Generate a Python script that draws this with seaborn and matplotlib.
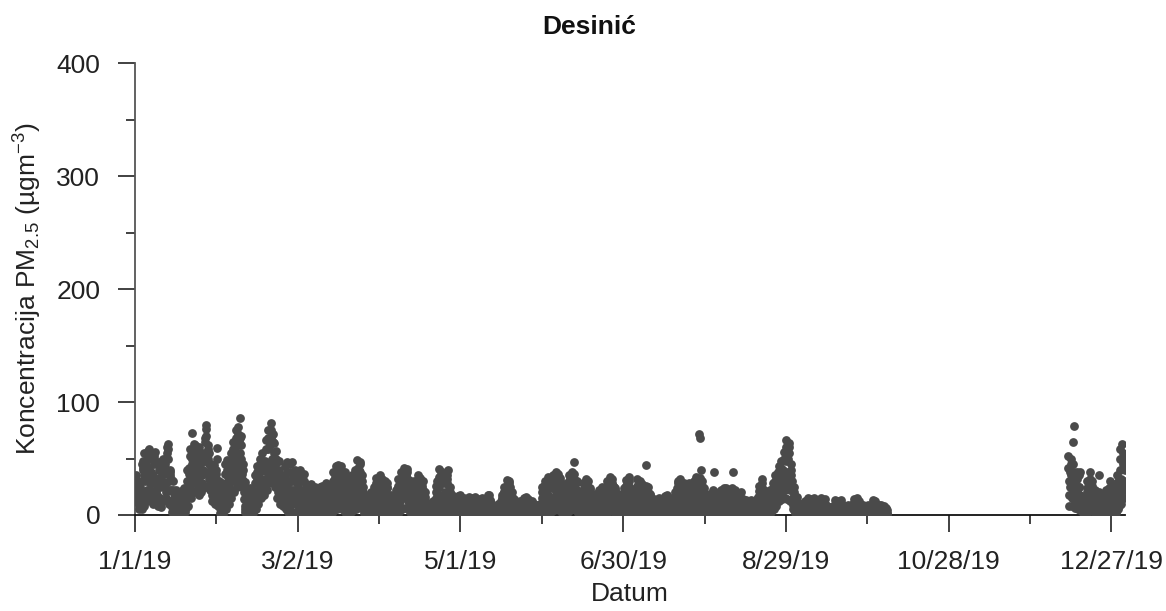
import numpy as np
import pandas as pd
import matplotlib
matplotlib.use("Agg")
import matplotlib.pyplot as plt
import matplotlib.dates as mdates
import seaborn as sns
from matplotlib.ticker import FixedLocator, MultipleLocator, FixedFormatter

# ---- data: PM2.5 readings ----
# readings at 00, 06, 12, 18 h of each day
jan = [28, 35, 12, 22, 18, 30, 5, 14, 25, 12, 5, 45, 40, 55, 8, 30, 48, 35, 12, 57,
       58, 42, 15, 30, 38, 20, 10, 55, 45, 56, 12, 28, 32, 18, 8, 47, 40, 25, 7, 45,
       30, 50, 12, 38, 45, 28, 15, 60, 63, 50, 10, 35, 40, 22, 3, 12, 30, 15, 1, 8,
       12, 22, 1, 6, 10, 4, 0, 18, 14, 8, 2, 20, 24, 15, 3, 10, 20, 40, 8, 30,
       42, 58, 15, 30, 50, 35, 20, 63, 62, 45, 20, 38, 55, 30, 18, 60, 45, 25, 20, 35,
       40, 55, 25, 65, 70, 80, 25, 50, 62, 45, 22, 35, 45, 25, 12, 30, 20, 44, 10, 32,
       40, 59, 8, 25]
feb = [30, 12, 2, 20, 15, 28, 1, 8, 25, 45, 5, 35, 49, 30, 10, 40, 40, 55, 15, 30,
       50, 65, 20, 42, 60, 75, 25, 45, 78, 65, 30, 55, 70, 50, 25, 40, 30, 14, 3, 8,
       22, 10, 1, 5, 15, 24, 1, 8, 22, 12, 2, 16, 20, 35, 5, 28, 43, 30, 10, 22,
       38, 50, 15, 28, 55, 40, 18, 32, 48, 66, 22, 38, 75, 60, 28, 45, 81, 68, 30, 50,
       72, 55, 25, 40, 57, 35, 15, 25, 48, 30, 10, 20, 35, 20, 8, 15, 25, 43, 5, 18,
       47, 28, 3, 12, 30, 45, 3, 15, 47, 22, 2, 35]
mar = [40, 20, 3, 28, 25, 38, 2, 12, 40, 30, 3, 18, 22, 36, 2, 10, 27, 15, 1, 8,
       12, 26, 1, 18, 27, 14, 2, 20, 18, 25, 1, 7, 24, 10, 1, 15, 14, 25, 2, 19,
       26, 18, 3, 10, 20, 28, 2, 12, 22, 8, 1, 14, 12, 25, 2, 18, 38, 20, 4, 28,
       30, 43, 5, 18, 44, 25, 6, 35, 43, 30, 5, 20, 28, 38, 3, 15, 31, 14, 2, 22,
       20, 33, 3, 12, 35, 22, 4, 28, 28, 40, 5, 18, 49, 32, 8, 40, 47, 25, 6, 35,
       25, 12, 2, 18, 12, 5, 0, 8, 6, 10, 0, 3, 20, 8, 1, 12, 15, 25, 2, 20,
       33, 18, 3, 25]
apr = [28, 35, 4, 15, 32, 20, 3, 12, 18, 30, 2, 24, 25, 10, 1, 16, 12, 18, 1, 6,
       14, 5, 0, 9, 10, 22, 1, 15, 32, 18, 3, 24, 25, 38, 5, 30, 42, 28, 6, 35,
       35, 41, 5, 20, 31, 15, 3, 22, 18, 28, 2, 10, 30, 20, 3, 12, 25, 35, 3, 15,
       33, 18, 2, 26, 30, 12, 2, 20, 13, 5, 0, 8, 8, 3, 0, 5, 4, 10, 0, 7,
       12, 6, 1, 9, 20, 30, 2, 12, 41, 25, 4, 32, 30, 38, 3, 18, 35, 20, 3, 28,
       28, 40, 4, 15, 25, 12, 1, 18, 13, 5, 0, 9, 8, 15, 0, 4, 17, 10, 1, 6]
may = [18, 8, 0, 12, 10, 15, 0, 5, 14, 6, 0, 9, 7, 16, 1, 11, 15, 9, 0, 4,
       12, 16, 1, 6, 13, 5, 0, 8, 6, 14, 0, 10, 15, 9, 1, 4, 12, 5, 0, 8,
       10, 18, 1, 6, 13, 7, 0, 4, 8, 3, 0, 5, 5, 7, 0, 2, 10, 4, 0, 6,
       12, 18, 1, 8, 25, 14, 2, 18, 20, 31, 3, 24, 30, 18, 2, 12, 20, 10, 1, 14,
       10, 4, 0, 7, 5, 8, 0, 3, 12, 6, 0, 9, 9, 15, 1, 12, 16, 10, 1, 6,
       14, 7, 0, 10, 6, 12, 0, 9, 10, 4, 0, 7, 9, 5, 0, 3, 6, 10, 0, 4,
       25, 12, 2, 18]
jun = [30, 18, 3, 22, 22, 34, 4, 28, 33, 15, 3, 25, 35, 24, 4, 16, 28, 38, 5, 20,
       36, 22, 4, 30, 28, 12, 2, 20, 18, 25, 2, 10, 27, 16, 3, 22, 35, 25, 4, 15,
       30, 38, 5, 22, 36, 20, 4, 28, 22, 10, 2, 15, 12, 20, 1, 7, 28, 15, 2, 20,
       22, 32, 3, 14, 30, 18, 2, 24, 18, 8, 1, 12, 10, 15, 1, 6, 19, 12, 1, 8,
       14, 22, 1, 9, 25, 15, 2, 19, 16, 24, 2, 10, 30, 20, 3, 24, 26, 34, 4, 15,
       32, 18, 3, 25, 22, 12, 2, 16, 12, 19, 1, 7, 18, 9, 1, 13, 15, 24, 2, 10]
jul = [31, 20, 3, 24, 25, 34, 3, 14, 20, 10, 1, 15, 9, 16, 1, 12, 32, 20, 3, 25,
       22, 30, 3, 14, 27, 15, 2, 20, 18, 26, 2, 10, 25, 12, 2, 19, 16, 8, 1, 11,
       7, 14, 0, 10, 13, 6, 0, 9, 10, 15, 1, 5, 14, 8, 0, 4, 9, 17, 1, 12,
       18, 11, 1, 6, 13, 5, 0, 9, 8, 15, 1, 11, 20, 12, 1, 16, 24, 30, 3, 15,
       32, 20, 3, 26, 18, 28, 2, 10, 25, 14, 2, 20, 20, 28, 2, 12, 24, 15, 2, 18,
       22, 30, 3, 12, 34, 25, 3, 18, 28, 33, 5, 20, 30, 18, 3, 24, 19, 10, 1, 14,
       11, 18, 1, 6]
aug = [19, 12, 1, 8, 14, 22, 2, 17, 20, 10, 1, 14, 12, 18, 1, 6, 22, 15, 2, 10,
       16, 24, 2, 20, 24, 12, 2, 18, 15, 22, 2, 8, 24, 16, 2, 20, 18, 22, 2, 10,
       19, 9, 1, 14, 12, 20, 1, 6, 14, 7, 1, 10, 8, 13, 0, 5, 12, 6, 0, 9,
       7, 13, 0, 10, 12, 4, 0, 8, 9, 14, 1, 6, 26, 15, 2, 20, 24, 32, 3, 14,
       22, 12, 2, 17, 10, 18, 2, 14, 22, 15, 3, 9, 20, 28, 5, 14, 35, 25, 8, 18,
       32, 43, 12, 25, 48, 35, 14, 28, 40, 56, 15, 30, 66, 50, 14, 38, 55, 64, 12, 35,
       40, 22, 5, 15]
sep = [25, 12, 2, 8, 8, 16, 0, 4, 10, 5, 0, 3, 4, 10, 0, 7, 12, 6, 0, 3,
       7, 15, 0, 10, 14, 8, 0, 4, 10, 15, 1, 6, 9, 4, 0, 2, 3, 9, 0, 6,
       15, 8, 0, 4, 6, 14, 0, 9, 8, 3, 0, 5, 4, 7, 0, 2, 7, 3, 0, 5,
       6, 13, 0, 9, 12, 5, 0, 8, 7, 13, 0, 4, 9, 4, 0, 6, 3, 8, 0, 5,
       9, 5, 0, 2, 4, 9, 0, 6, 14, 7, 0, 10, 9, 15, 0, 5, 12, 6, 0, 8,
       4, 9, 0, 6, 8, 3, 0, 5, 5, 9, 0, 2, 8, 4, 0, 6, 6, 13, 0, 9]
oct_ = [12, 5, 0, 8, 4, 9, 0, 6, 9, 5, 0, 3, 5, 8, 0, 2, 6, 2]
dec = [52, 30, 8, 40, 35, 50, 8, 22, 45, 28, 6, 18, 25, 38, 5, 15, 35, 18, 4, 10,
       16, 8, 2, 12, 6, 15, 1, 10, 30, 15, 3, 20, 25, 38, 4, 12, 30, 12, 3, 20,
       22, 8, 1, 14, 10, 20, 1, 6, 16, 7, 0, 10, 6, 15, 0, 9, 22, 12, 1, 8,
       14, 24, 2, 18, 25, 10, 2, 16, 12, 24, 2, 18, 35, 20, 5, 12, 40, 58, 10, 25,
       63, 45, 15, 30]
# readings at 03, 09, 15, 21 h of each day
jan_b = [32, 24, 16, 25, 24, 16, 9, 20, 18, 8, 30, 42, 48, 35, 18, 44, 42, 22, 38, 52,
         50, 28, 22, 35, 28, 14, 35, 50, 52, 32, 20, 30, 25, 12, 30, 44, 33, 15, 28, 36,
         42, 28, 25, 42, 36, 20, 40, 55, 58, 30, 22, 38, 32, 12, 7, 20, 22, 6, 4, 10,
         18, 10, 3, 8, 7, 2, 10, 15, 10, 5, 12, 22, 20, 8, 6, 15, 30, 24, 18, 36,
         52, 35, 22, 45, 42, 28, 45, 58, 55, 32, 28, 48, 42, 24, 40, 52, 35, 22, 28, 40,
         48, 38, 48, 68, 76, 55, 38, 58, 55, 32, 28, 40, 35, 18, 20, 25, 32, 25, 20, 36,
         50, 30, 15, 28]
feb_b = [22, 6, 10, 18, 22, 12, 4, 14, 36, 20, 18, 40, 40, 18, 25, 45, 48, 32, 22, 38,
         58, 40, 30, 55, 68, 50, 35, 62, 72, 48, 42, 68, 62, 36, 32, 45, 20, 8, 5, 15,
         16, 5, 3, 10, 20, 12, 4, 18, 17, 6, 9, 18, 28, 18, 15, 32, 38, 20, 16, 30,
         45, 32, 22, 44, 48, 28, 25, 40, 58, 42, 30, 58, 68, 44, 36, 62, 75, 50, 40, 65,
         64, 40, 32, 50, 46, 25, 20, 35, 40, 20, 14, 28, 28, 14, 10, 20, 34, 22, 12, 30,
         38, 15, 8, 22, 38, 22, 9, 30, 35, 12, 18, 38]
mar_b = [30, 10, 15, 32, 32, 18, 6, 18, 35, 15, 10, 20, 30, 15, 5, 16, 20, 6, 4, 10,
         20, 10, 9, 22, 20, 7, 11, 15, 22, 10, 4, 16, 16, 5, 8, 12, 20, 12, 10, 22,
         22, 9, 6, 15, 24, 12, 6, 18, 15, 4, 8, 10, 18, 10, 9, 26, 30, 12, 15, 34,
         38, 22, 10, 35, 35, 15, 20, 40, 38, 16, 12, 24, 34, 18, 8, 22, 24, 8, 12, 16,
         28, 15, 7, 25, 30, 12, 15, 32, 35, 20, 10, 38, 42, 18, 25, 45, 38, 14, 20, 30,
         20, 6, 10, 15, 9, 2, 4, 6, 8, 4, 1, 12, 15, 4, 6, 14, 20, 12, 10, 28,
         28, 10, 14, 30]
apr_b = [32, 18, 8, 22, 26, 10, 7, 16, 25, 14, 12, 28, 18, 5, 8, 14, 15, 8, 3, 10,
         10, 2, 4, 7, 16, 10, 8, 24, 26, 10, 12, 30, 32, 20, 16, 36, 36, 16, 20, 40,
         38, 22, 12, 28, 24, 8, 12, 20, 24, 14, 5, 22, 26, 10, 7, 18, 30, 18, 8, 28,
         26, 9, 14, 30, 22, 6, 10, 16, 9, 2, 4, 10, 6, 1, 2, 3, 8, 4, 3, 10,
         10, 3, 5, 15, 26, 14, 6, 30, 34, 12, 18, 36, 35, 18, 10, 30, 28, 10, 15, 32,
         35, 20, 9, 22, 20, 6, 10, 15, 10, 2, 4, 7, 12, 6, 2, 14, 14, 5, 3, 16]
may_b = [14, 4, 6, 10, 13, 7, 2, 12, 10, 3, 4, 8, 12, 8, 6, 14, 12, 4, 2, 10,
         14, 8, 3, 11, 9, 2, 4, 7, 10, 7, 5, 13, 12, 5, 2, 9, 9, 2, 4, 10,
         14, 9, 3, 12, 10, 3, 2, 6, 6, 1, 2, 4, 6, 3, 1, 8, 7, 2, 3, 10,
         15, 9, 4, 20, 20, 7, 10, 22, 26, 15, 12, 28, 25, 9, 6, 16, 15, 5, 7, 12,
         7, 2, 3, 6, 7, 4, 1, 10, 9, 3, 4, 12, 12, 8, 6, 14, 13, 5, 3, 12,
         11, 3, 5, 8, 10, 6, 4, 10, 7, 2, 3, 8, 7, 2, 1, 5, 8, 5, 2, 15,
         20, 7, 10, 26]
jun_b = [25, 10, 12, 28, 28, 18, 15, 32, 26, 8, 14, 30, 30, 12, 9, 24, 33, 20, 12, 30,
         30, 12, 16, 33, 20, 6, 10, 22, 22, 12, 5, 20, 22, 8, 12, 30, 30, 14, 9, 26,
         34, 20, 12, 32, 28, 10, 15, 30, 16, 5, 8, 14, 16, 9, 4, 20, 22, 8, 11, 24,
         28, 16, 8, 24, 25, 9, 12, 22, 13, 4, 6, 11, 13, 7, 3, 14, 16, 6, 4, 12,
         18, 10, 5, 18, 20, 8, 10, 22, 20, 12, 6, 22, 26, 10, 14, 28, 30, 18, 9, 28,
         26, 10, 14, 24, 18, 6, 9, 14, 16, 9, 4, 14, 14, 4, 7, 14, 20, 12, 6, 26]
jul_b = [26, 10, 14, 28, 30, 16, 8, 18, 15, 5, 8, 12, 13, 8, 6, 24, 26, 10, 14, 26,
         26, 15, 8, 22, 22, 8, 10, 22, 22, 12, 6, 20, 20, 6, 10, 18, 12, 4, 6, 9,
         11, 6, 5, 12, 10, 3, 4, 10, 13, 7, 3, 12, 11, 4, 2, 7, 14, 8, 6, 15,
         15, 5, 3, 10, 9, 2, 4, 11, 12, 7, 6, 16, 16, 6, 8, 20, 28, 15, 9, 24,
         26, 10, 14, 22, 24, 14, 6, 18, 20, 8, 10, 22, 24, 14, 7, 18, 20, 8, 10, 20,
         26, 15, 8, 28, 30, 12, 10, 24, 30, 18, 12, 26, 25, 9, 14, 20, 15, 5, 8, 12,
         15, 9, 3, 14]
aug_b = [16, 6, 4, 11, 18, 10, 9, 18, 15, 5, 8, 12, 15, 9, 3, 16, 18, 7, 6, 14,
         20, 12, 10, 22, 18, 6, 10, 16, 18, 11, 5, 18, 20, 8, 10, 20, 20, 11, 6, 15,
         14, 5, 7, 12, 16, 10, 3, 10, 11, 3, 5, 9, 11, 6, 2, 9, 9, 3, 4, 8,
         10, 6, 5, 11, 8, 2, 4, 9, 12, 7, 3, 16, 21, 8, 10, 22, 28, 16, 8, 18,
         18, 6, 9, 14, 14, 9, 7, 18, 18, 8, 6, 15, 24, 15, 9, 25, 30, 15, 12, 28,
         38, 25, 18, 40, 42, 22, 20, 35, 50, 32, 22, 48, 60, 30, 25, 50, 60, 38, 22, 45,
         30, 12, 9, 20]
sep_b = [18, 6, 4, 10, 12, 6, 2, 9, 7, 2, 1, 5, 7, 4, 3, 10, 9, 3, 1, 6,
         11, 6, 4, 12, 11, 4, 2, 8, 12, 7, 3, 8, 6, 2, 1, 3, 6, 4, 3, 10,
         12, 4, 2, 6, 10, 6, 4, 8, 6, 1, 2, 4, 6, 3, 1, 5, 5, 1, 2, 4,
         10, 5, 4, 11, 9, 2, 4, 6, 10, 5, 2, 8, 7, 2, 3, 5, 6, 3, 2, 7,
         7, 2, 1, 3, 7, 4, 3, 10, 11, 3, 5, 8, 12, 6, 2, 10, 9, 3, 4, 6,
         7, 4, 3, 7, 6, 1, 2, 4, 7, 4, 1, 5, 6, 2, 3, 5, 10, 5, 4, 10]
oct_b = [9, 2, 4, 6, 7, 4, 3, 7, 7, 2, 1, 4, 7, 3, 1, 4, 4, 1]
dec_b = [42, 18, 25, 38, 45, 28, 15, 35, 38, 15, 12, 22, 32, 20, 10, 25, 25, 9, 6, 14,
         12, 4, 7, 9, 11, 7, 5, 20, 24, 8, 12, 22, 32, 18, 8, 26, 22, 6, 12, 18,
         15, 4, 8, 12, 16, 9, 3, 12, 12, 3, 5, 8, 11, 7, 4, 16, 18, 6, 4, 12,
         20, 12, 10, 22, 18, 5, 9, 14, 18, 12, 10, 28, 28, 12, 8, 32, 50, 32, 18, 50,
         55, 28, 22, 40]
segment_starts = ["2019-01-01", "2019-02-01", "2019-03-01", "2019-04-01", "2019-05-01",
                  "2019-06-01", "2019-07-01", "2019-08-01", "2019-09-01", "2019-10-01",
                  "2019-12-11"]
# isolated high readings
outlier_times = ["2019-01-21 21:00", "2019-02-08 21:00", "2019-02-10 12:00", "2019-05-11 12:00",
                 "2019-06-11 17:00", "2019-07-08 09:00", "2019-07-28 00:00", "2019-07-28 05:00",
                 "2019-07-28 15:00", "2019-08-02 14:00", "2019-08-09 14:00", "2019-12-12 20:00",
                 "2019-12-13 02:00", "2019-12-15 06:00", "2019-12-22 12:00", "2019-12-26 12:00"]
outlier_vals = [73, 86, 29, 18, 47, 44, 72, 68, 40, 38, 38, 65, 79, 38, 35, 30]

tick_labels = ["1/1/19", "3/2/19", "5/1/19", "6/30/19", "8/29/19", "10/28/19", "12/27/19"]
minor_tick_dates = ["2019-01-31", "2019-04-01", "2019-05-31", "2019-07-30", "2019-09-28", "2019-11-27"]
title = "Desinić"
ylabel = r"Koncentracija PM$_{2.5}$ (µgm$^{-3}$)"
xlabel = "Datum"

# ---- assemble ----
series_a = [jan, feb, mar, apr, may, jun, jul, aug, sep, oct_, dec]
series_b = [jan_b, feb_b, mar_b, apr_b, may_b, jun_b, jul_b, aug_b, sep_b, oct_b, dec_b]
frames = []
for start, va, vb in zip(segment_starts, series_a, series_b):
    t0 = pd.Timestamp(start)
    frames.append(pd.DataFrame({"t": pd.date_range(t0, periods=len(va), freq="6h"), "v": va}))
    frames.append(pd.DataFrame({"t": pd.date_range(t0 + pd.Timedelta(hours=3),
                                                   periods=len(vb), freq="6h"), "v": vb}))
frames.append(pd.DataFrame({"t": pd.to_datetime(outlier_times), "v": outlier_vals}))
df = pd.concat(frames, ignore_index=True)

sns.set_theme(style="white")
plt.rcParams["font.family"] = ["Liberation Sans", "DejaVu Sans"]
plt.rcParams["mathtext.fontset"] = "custom"
plt.rcParams["mathtext.rm"] = "Liberation Sans"
plt.rcParams["mathtext.it"] = "Liberation Sans"

fig = plt.figure(figsize=(11.66, 6.11), dpi=100)
ax = fig.add_axes([135 / 1166, 1 - 515 / 611, (1125 - 135) / 1166, (515 - 63) / 611])

sns.scatterplot(data=df, x="t", y="v", s=40, color="#4a4a4a", linewidth=0,
                alpha=1, ax=ax, legend=False, zorder=3)

ax.set_xlim(pd.Timestamp("2019-01-01"), pd.Timestamp("2020-01-01"))
ax.set_ylim(0, 400)

for s in ["top", "right"]:
    ax.spines[s].set_visible(False)
ax.spines["left"].set_color("#555555")
ax.spines["bottom"].set_color("#111111")
ax.spines["left"].set_linewidth(1.3)
ax.spines["bottom"].set_linewidth(1.3)
ax.spines["left"].set_zorder(1)
ax.spines["bottom"].set_zorder(1)

major_dates = pd.to_datetime(tick_labels, format="%m/%d/%y")
ax.xaxis.set_major_locator(FixedLocator(mdates.date2num(major_dates)))
ax.xaxis.set_major_formatter(FixedFormatter(tick_labels))
ax.xaxis.set_minor_locator(FixedLocator(mdates.date2num(pd.to_datetime(minor_tick_dates))))
ax.yaxis.set_major_locator(MultipleLocator(100))
ax.yaxis.set_minor_locator(MultipleLocator(50))

ax.tick_params(axis="both", which="major", direction="out", length=12, width=1.3,
               colors="#333333", labelcolor="#222222", labelsize=19, pad=13,
               bottom=True, left=True)
ax.tick_params(axis="both", which="minor", direction="out", length=6.5, width=1.3,
               colors="#333333", bottom=True, left=True)
ax.tick_params(axis="x", which="major", pad=13)

ax.set_xlabel(xlabel, fontsize=19, color="#222222", labelpad=6)
ax.set_ylabel(ylabel, fontsize=19, color="#222222", labelpad=9)
fig.text(589 / 1166, 1 - 27 / 611, title, fontsize=19, fontweight="bold",
         color="#111111", ha="center", va="center")

fig.savefig("out.png", dpi=100, facecolor="white")
